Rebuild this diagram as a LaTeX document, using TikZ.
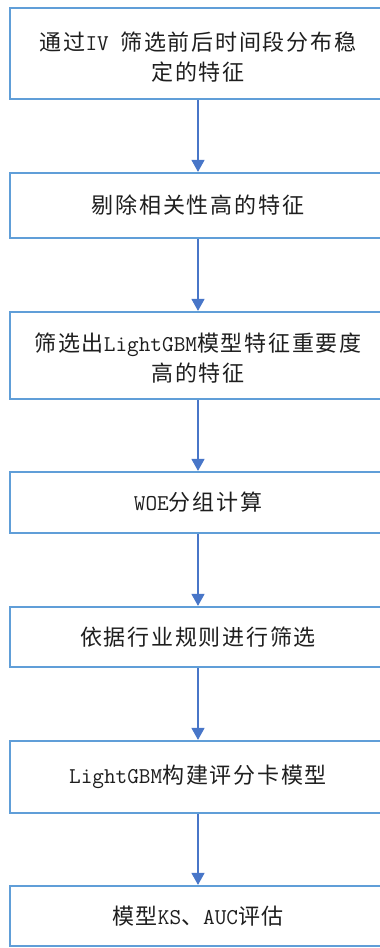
\documentclass[tikz,border=0pt]{standalone}
\usepackage{fontspec}
\setmainfont{Noto Sans CJK SC}
\newcommand\La[1]{{\ttfamily\fontsize{22.6}{30}\selectfont #1}}
\usetikzlibrary{arrows.meta}
\definecolor{boxblue}{RGB}{96,158,216}
\definecolor{arrblue}{RGB}{72,118,200}
\definecolor{txt}{RGB}{30,30,30}
\begin{document}
\begin{tikzpicture}[x=1pt,y=-1pt,
  stepbox/.style={draw=boxblue, line width=2.2pt, minimum width=376pt, inner sep=0pt,
    align=center, text=txt,
    font=\fontsize{22}{30}\selectfont\addfontfeatures{LetterSpace=8}},
  conn/.style={draw=arrblue, line width=1.3pt, -{Triangle[width=13pt,length=12pt]}}]
\useasboundingbox (0,0) rectangle (380,948);
\fill[white] (0,0) rectangle (380,948);
\clip (0,0) rectangle (380,948);
\node[stepbox, minimum height=91pt] (b1) at (198,53.5) {};
\node[align=center, text=txt, inner sep=0pt, font=\fontsize{22}{30}\selectfont\addfontfeatures{LetterSpace=8}] (t1) at (198,57) {通过\La{IV }筛选前后时间段分布稳\\定的特征};
\node[stepbox, minimum height=65pt] (b2) at (198,205.5) {剔除相关性高的特征};
\node[stepbox, minimum height=87pt] (b3) at (198,355.5) {};
\node[align=center, text=txt, inner sep=0pt, font=\fontsize{22}{30}\selectfont\addfontfeatures{LetterSpace=8}] (t3) at (198,358) {筛选出\La{LightGBM}模型特征重要度\\高的特征};
\node[stepbox, minimum height=61pt] (b4) at (198,502.5) {\La{WOE}分组计算};
\node[stepbox, minimum height=60pt] (b5) at (198,637) {依据行业规则进行筛选};
\node[stepbox, minimum height=72pt] (b6) at (198,777) {\La{LightGBM}构建评分卡模型};
\node[stepbox, minimum height=60pt] (b7) at (198,916) {模型\La{KS}、\La{AUC}评估};
\draw[conn] (b1) -- (b2);
\draw[conn] (b2) -- (b3);
\draw[conn] (b3) -- (b4);
\draw[conn] (b4) -- (b5);
\draw[conn] (b5) -- (b6);
\draw[conn] (b6) -- (b7);
\end{tikzpicture}
\end{document}
